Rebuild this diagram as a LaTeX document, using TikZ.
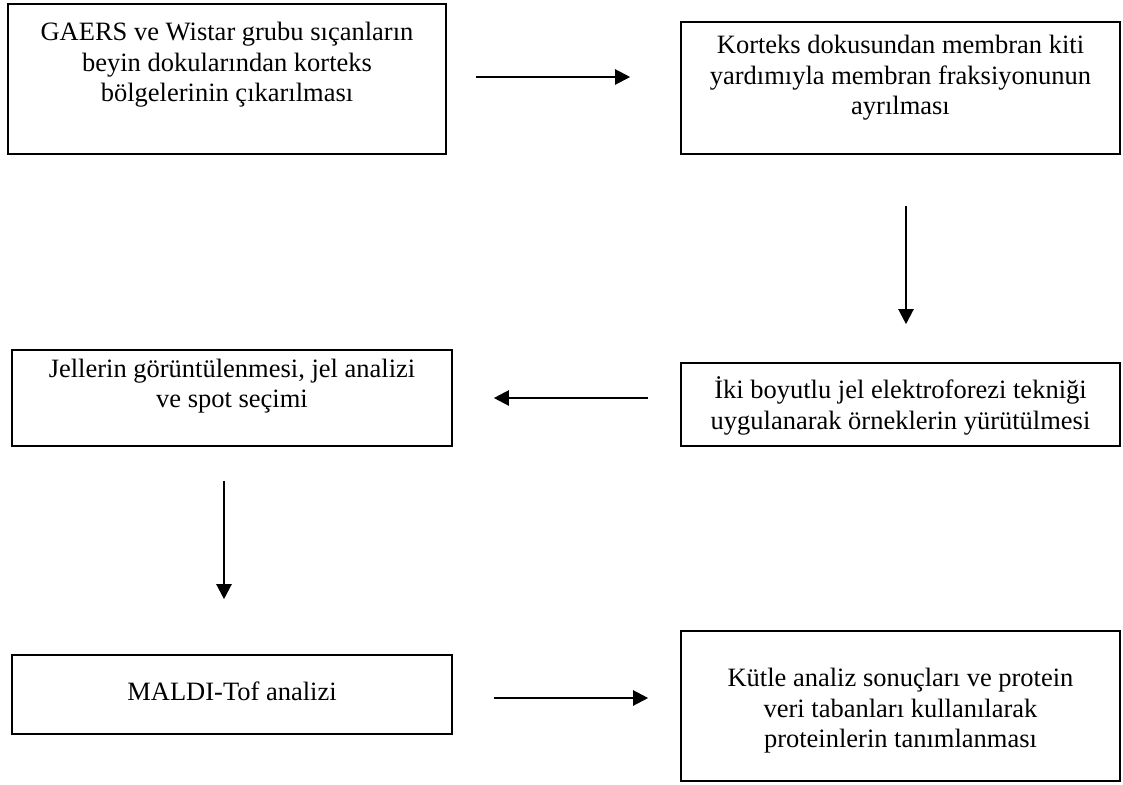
\documentclass[tikz,border=0pt]{standalone}
\usepackage{fontspec}
\setmainfont{Liberation Serif}
\usetikzlibrary{arrows.meta}

\tikzset{
  frame/.style={draw, line width=1.6pt, inner sep=0pt},
  steptext/.style={align=center, inner sep=0pt,
    font=\fontsize{26.5}{30.5}\selectfont},
  flow/.style={line width=2.2pt, -{Triangle[length=15pt,width=15pt]}}
}

\begin{document}
\begin{tikzpicture}[x=1pt, y=-1pt, line cap=butt, line join=miter]

\useasboundingbox (0,0) rectangle (1123,784);

% Frames
\node[frame, minimum width=438pt, minimum height=150pt] (b1) at (227,79) {};
\node[frame, minimum width=439pt, minimum height=132pt] (b2) at (900.5,88) {};
\node[frame, minimum width=440pt, minimum height=96pt]  (b3) at (232,398) {};
\node[frame, minimum width=439pt, minimum height=83pt]  (b4) at (900.5,404.5) {};
\node[frame, minimum width=440pt, minimum height=79pt]  (b5) at (232,694.5) {};
\node[frame, minimum width=439pt, minimum height=150pt] (b6) at (900.5,706) {};

% Step texts
\node[steptext] (t1) at (227,65)
  {GAERS ve Wistar grubu sıçanların\\beyin dokularından korteks\\bölgelerinin çıkarılması};
\node[steptext] (t2) at (900.5,78)
  {Korteks dokusundan membran kiti\\yardımıyla membran fraksiyonunun\\ayrılması};
\node[steptext] (t3) at (232,386)
  {Jellerin görüntülenmesi, jel analizi\\ve spot seçimi};
\node[steptext] (t4) at (900.5,406)
  {İki boyutlu jel elektroforezi tekniği\\uygulanarak örneklerin yürütülmesi};
\node[steptext] (t5) at (232,691)
  {MALDI-Tof analizi};
\node[steptext] (t6) at (900.5,711)
  {Kütle analiz sonuçları ve protein\\veri tabanları kullanılarak\\proteinlerin tanımlanması};

% Arrows
\draw[flow, shorten <=29pt, shorten >=50pt]
  ([yshift=2pt]b1.east) -- ([yshift=2pt]b1.east -| b2.west);
\draw[flow, shorten <=51pt, shorten >=38pt]
  ([xshift=5.5pt]b2.south) -- ([xshift=5.5pt]b4.north);
\draw[flow, shorten <=32pt, shorten >=41pt]
  (b4.west |- b3.east) -- (b3.east);
\draw[flow, shorten <=34pt, shorten >=55pt]
  ([xshift=-8pt]b3.south) -- ([xshift=-8pt]b5.north);
\draw[flow, shorten <=41pt, shorten >=32pt]
  ([yshift=-3.5pt]b5.east) -- ([yshift=-3.5pt]b5.east -| b6.west);

\end{tikzpicture}
\end{document}
